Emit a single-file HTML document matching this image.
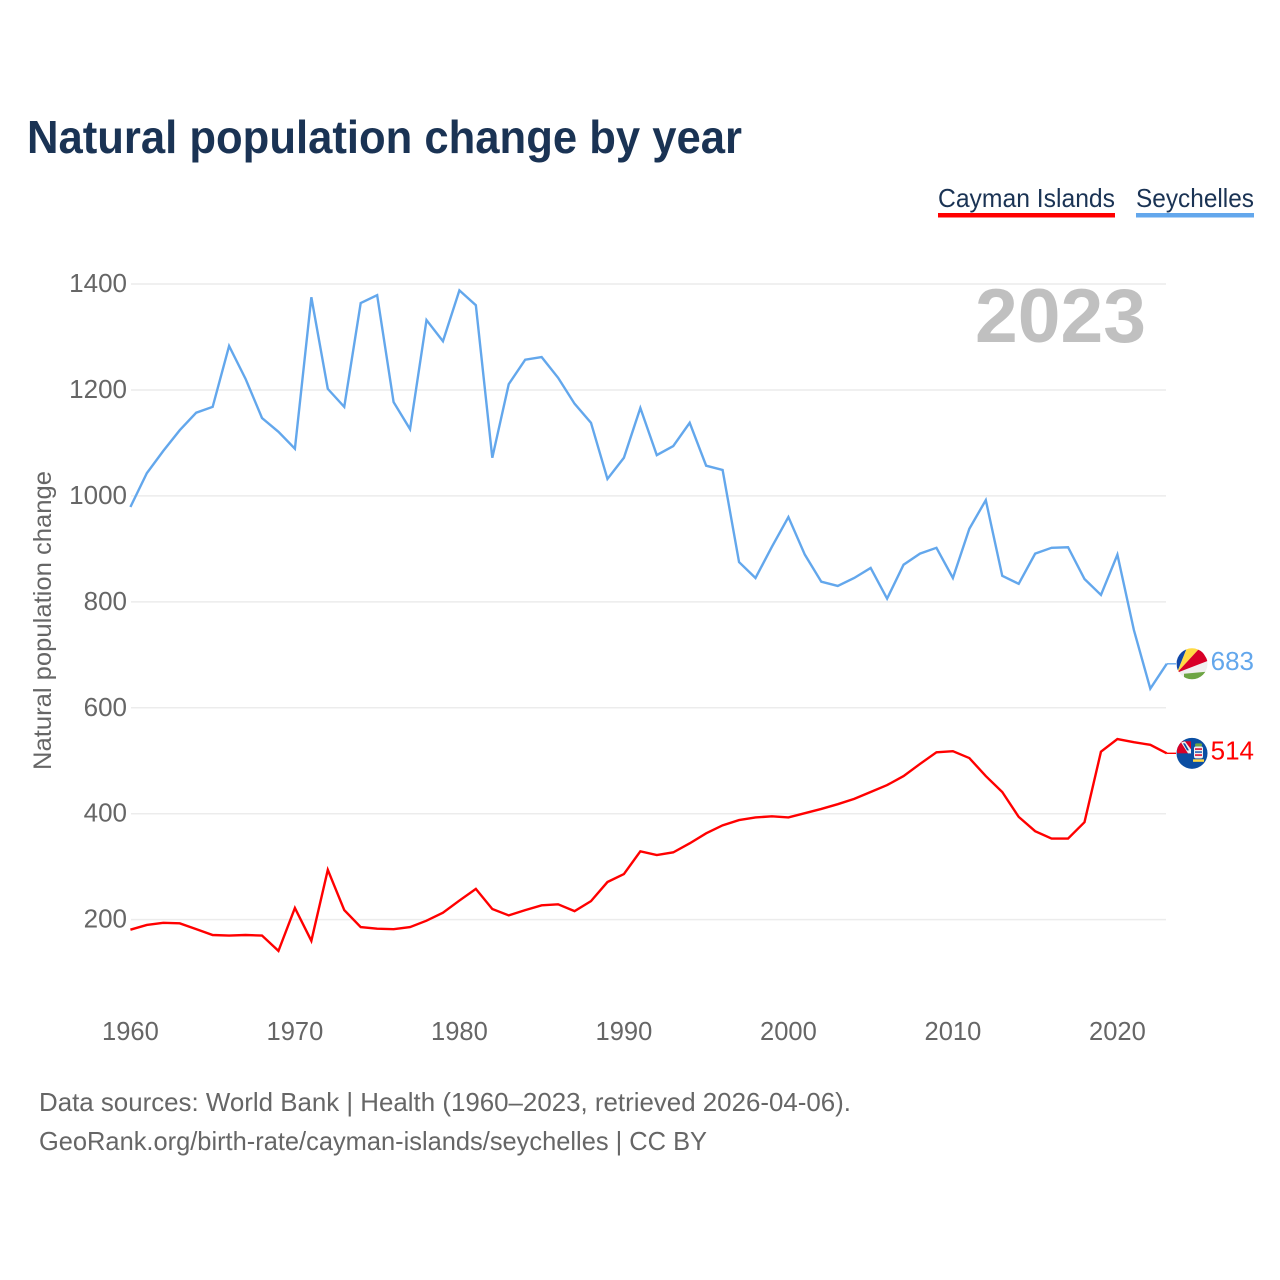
<!DOCTYPE html>
<html>
<head>
<meta charset="utf-8">
<title>Natural population change by year</title>
<style>
html,body{margin:0;padding:0;background:#fff;width:1280px;height:1280px;overflow:hidden}
svg{display:block}
text{font-family:"Liberation Sans",sans-serif}
</style>
</head>
<body>
<svg id="chart" xmlns="http://www.w3.org/2000/svg" width="1280" height="1280" viewBox="0 0 1280 1280">
  <defs>
    <clipPath id="flag-clip"><circle cx="0" cy="0" r="15.5"></circle></clipPath>
  </defs>
  <text x="27" y="153" font-size="46" font-weight="700" fill="#1a3354" textLength="715" lengthAdjust="spacingAndGlyphs">Natural population change by year</text>

  <g>
    <text x="938" y="207" font-size="26" fill="#1a3354" textLength="177" lengthAdjust="spacingAndGlyphs">Cayman Islands</text>
    <rect x="938" y="213" width="177" height="4.5" fill="#ff0000"></rect>
  </g>
  <g>
    <text x="1136" y="207" font-size="26" fill="#1a3354" textLength="118" lengthAdjust="spacingAndGlyphs">Seychelles</text>
    <rect x="1136" y="213" width="118" height="4.5" fill="#63a7ec"></rect>
  </g>

  <text x="975" y="342" font-size="76" font-weight="700" fill="#c0c0c0" textLength="171" lengthAdjust="spacingAndGlyphs">2023</text>
  <text transform="translate(51,770) rotate(-90)" x="0" y="0" font-size="25" fill="#666666" textLength="299" lengthAdjust="spacingAndGlyphs">Natural population change</text>

  <g id="grid"></g>
  <g id="yticks"></g>
  <g id="xticks"></g>
  <g id="series"></g>
  <g id="ends"></g>

  <text x="39" y="1111" font-size="26" fill="#666666" textLength="812" lengthAdjust="spacingAndGlyphs">Data sources: World Bank | Health (1960–2023, retrieved 2026-04-06).</text>
  <text x="39" y="1150" font-size="26" fill="#666666" textLength="668" lengthAdjust="spacingAndGlyphs">GeoRank.org/birth-rate/cayman-islands/seychelles | CC BY</text>
</svg>
<script>
const startYear = 1960;
const xTickLabels = [1960, 1970, 1980, 1990, 2000, 2010, 2020];
const yTickLabels = [200, 400, 600, 800, 1000, 1200, 1400];
const seychellesValues = [979,1043,1085,1124,1157,1168,1283,1221,1147,1121,1089,1375,1202,1168,1364,1379,1177,1126,1332,1292,1388,1360,1072,1211,1257,1262,1223,1174,1138,1032,1072,1166,1077,1094,1138,1057,1049,875,845,904,960,889,838,830,845,864,806,870,891,902,845,938,992,849,834,891,902,903,843,813,889,747,636,683];
const caymanValues = [181,190,194,193,182,171,170,171,170,141,222,160,294,218,186,183,182,186,198,213,236,258,220,208,218,227,229,216,235,271,286,329,322,327,344,363,378,388,393,395,393,401,409,418,428,441,454,471,494,516,518,505,471,441,394,367,353,353,384,517,541,535,530,514];

const NS = 'http://www.w3.org/2000/svg';
function xScale(year) { return 130.4 + (year - 1960) * 16.45; }
function yScale(value) { return 284 + (1400 - value) * 0.5297; }
function mk(tag, parent, attrs) {
  const el = document.createElementNS(NS, tag);
  for (const k in attrs) el.setAttribute(k, attrs[k]);
  parent.appendChild(el);
  return el;
}
const grid = document.getElementById('grid');
const yticks = document.getElementById('yticks');
const xticks = document.getElementById('xticks');
const series = document.getElementById('series');
const ends = document.getElementById('ends');

yTickLabels.forEach(function (v) {
  const line = mk('line', grid, {x1: 131, x2: 1166, y1: yScale(v), y2: yScale(v), stroke: '#ececec', 'stroke-width': 1.5});
  
  
  const t = mk('text', yticks, {x: 127, y: yScale(v) + 8, 'font-size': 26, fill: '#666666', 'text-anchor': 'end'});
  t.textContent = String(v);
  
  
});
xTickLabels.forEach(function (y) {
  const t = mk('text', xticks, {x: xScale(y), y: 1040, 'font-size': 25.5, fill: '#666666', 'text-anchor': 'middle'});
  t.textContent = String(y);
  
  
});

function drawLine(values, color) {
  const pts = values.map(function (v, i) { return xScale(startYear + i).toFixed(2) + ',' + yScale(v).toFixed(2); });
  return mk('polyline', series, {points: pts.join(' '), fill: 'none', stroke: color, 'stroke-width': 2.4, 'stroke-linejoin': 'miter'});
}
const seyLine = drawLine(seychellesValues, '#63a7ec');


const cayLine = drawLine(caymanValues, '#ff0000');



function endGroup(values, color) {
  const last = values[values.length - 1];
  const yEnd = yScale(last);
  const xEnd = xScale(startYear + values.length - 1);
  const stub = mk('line', ends, {x1: xEnd, x2: 1176, y1: yEnd, y2: yEnd, stroke: color, 'stroke-width': 1.4});
  
  
  const label = mk('text', ends, {x: 1254, y: yEnd + 6, 'font-size': 26, fill: color, 'text-anchor': 'end'});
  label.textContent = String(last);
  
  
  const outer = mk('g', ends, {transform: 'translate(1192,' + yEnd + ')'});
  return mk('g', outer, {'clip-path': 'url(#flag-clip)'});
}

const seyFlag = endGroup(seychellesValues, '#63a7ec');


mk('rect', seyFlag, {x: -16, y: -16, width: 32, height: 32, fill: '#f0f0f0'});
mk('polygon', seyFlag, {points: '-15,9 -16,-16 -5,-16', fill: '#0f47a8'});
mk('polygon', seyFlag, {points: '-15,9 -5,-16 8,-16', fill: '#ffda44'});
mk('polygon', seyFlag, {points: '-15,9 8,-16 16,-3', fill: '#d80027'});
mk('polygon', seyFlag, {points: '-8,10 14,8 14,16 -8,16', fill: '#6da544'});

const cayFlag = endGroup(caymanValues, '#ff0000');


mk('rect', cayFlag, {x: -16, y: -16, width: 32, height: 32, fill: '#0b4ea2'});
mk('rect', cayFlag, {x: -15, y: -12, width: 14, height: 12, fill: '#d80027'});
mk('polygon', cayFlag, {points: '-11,-11 -7,-12 -1,-4 -1,0 -4,0', fill: '#f0f0f0'});
mk('polygon', cayFlag, {points: '-9,-10 -7,-10 -3,-3 -5,-3', fill: '#0b4ea2'});
mk('rect', cayFlag, {x: 2, y: -7, width: 9, height: 12, rx: 2, fill: '#f0f0f0'});
mk('rect', cayFlag, {x: 3, y: -10, width: 7, height: 3, rx: 1.5, fill: '#6da544'});
mk('rect', cayFlag, {x: 3, y: -5, width: 7, height: 1.5, fill: '#d80027'});
mk('rect', cayFlag, {x: 3, y: -2, width: 7, height: 1.5, fill: '#1a5fb4'});
mk('rect', cayFlag, {x: 3, y: 1, width: 7, height: 1.5, fill: '#d80027'});
mk('rect', cayFlag, {x: 1, y: 6, width: 11, height: 2.5, fill: '#ffda44'});
</script>
</body>
</html>
